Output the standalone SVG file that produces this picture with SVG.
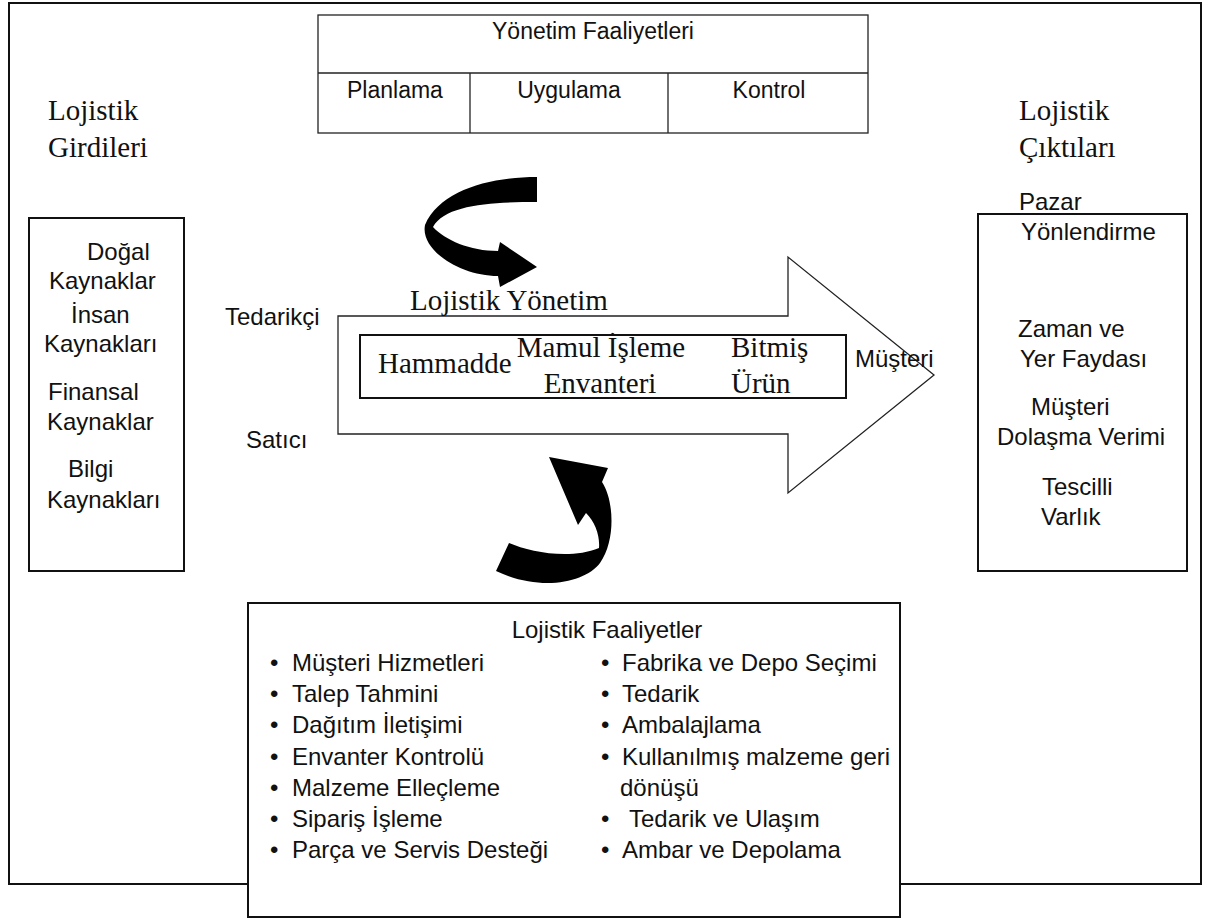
<svg xmlns="http://www.w3.org/2000/svg" width="1224" height="920" viewBox="0 0 1224 920">
<style>
.s{font-family:"Liberation Sans",Arial,sans-serif;font-size:24px;fill:#111}
.t{font-family:"Liberation Serif","Times New Roman",serif;font-size:29px;fill:#111}
.tb{font-family:"Liberation Sans",Arial,sans-serif;font-size:23px;fill:#111}
.box{fill:none;stroke:#111;stroke-width:2}
.thin{fill:none;stroke:#222;stroke-width:1.3}
.blk{fill:#000;stroke:none}
</style>
<rect width="1224" height="920" fill="#fff"/>
<g id="frame">
<path class="box" d="M248,884 L9,884 L9,3 L1201,3 L1201,884 L900,884"/>
</g>
<g id="yonetim">
<rect class="thin" x="318" y="15" width="550" height="118"/>
<line class="thin" x1="318" y1="73" x2="868" y2="73"/>
<line class="thin" x1="470" y1="73" x2="470" y2="133"/>
<line class="thin" x1="668" y1="73" x2="668" y2="133"/>
<text class="tb" x="593" y="39" text-anchor="middle">Yönetim Faaliyetleri</text>
<text class="tb" x="347" y="98">Planlama</text>
<text class="tb" x="569" y="98" text-anchor="middle">Uygulama</text>
<text class="tb" x="769" y="98" text-anchor="middle">Kontrol</text>
</g>
<g id="girdiler-baslik">
<text class="t" x="48" y="120">Lojistik</text>
<text class="t" x="48" y="157">Girdileri</text>
</g>
<g id="ciktilar-baslik">
<text class="t" x="1019" y="120">Lojistik</text>
<text class="t" x="1019" y="157">Çıktıları</text>
</g>
<g id="girdiler">
<rect class="box" x="29" y="218" width="155" height="353"/>
<text class="s" x="87" y="260">Doğal</text>
<text class="s" x="49" y="289">Kaynaklar</text>
<text class="s" x="71" y="323">İnsan</text>
<text class="s" x="44" y="352">Kaynakları</text>
<text class="s" x="48" y="400">Finansal</text>
<text class="s" x="47" y="430">Kaynaklar</text>
<text class="s" x="68" y="477">Bilgi</text>
<text class="s" x="47" y="508">Kaynakları</text>
</g>
<g id="ciktilar">
<rect class="box" x="978" y="214" width="209" height="357"/>
<text class="s" x="1019" y="210">Pazar</text>
<text class="s" x="1021" y="240">Yönlendirme</text>
<text class="s" x="1018" y="337">Zaman ve</text>
<text class="s" x="1020" y="367">Yer Faydası</text>
<text class="s" x="1031" y="415">Müşteri</text>
<text class="s" x="997" y="445">Dolaşma Verimi</text>
<text class="s" x="1042" y="495">Tescilli</text>
<text class="s" x="1041" y="525">Varlık</text>
</g>
<g id="akis">
<path class="thin" d="M338,316 L788,316 L788,257 L934,375 L788,493 L788,434 L338,434 Z"/>
<rect class="box" x="360" y="335" width="486" height="63"/>
<text class="t" x="410" y="310">Lojistik Yönetim</text>
<text class="t" x="378" y="373">Hammadde</text>
<text class="t" x="601" y="357" text-anchor="middle">Mamul İşleme</text>
<text class="t" x="600" y="393" text-anchor="middle">Envanteri</text>
<text class="t" x="731" y="357">Bitmiş</text>
<text class="t" x="731" y="393">Ürün</text>
</g>
<g id="tedarikci"><text class="s" x="225" y="325">Tedarikçi</text></g>
<g id="satici"><text class="s" x="246" y="448">Satıcı</text></g>
<g id="musteri"><text class="s" x="855" y="367">Müşteri</text></g>
<g id="connectors">
<path class="blk" d="M537,177 C490,177 440,190 425,225 C420,250 460,276 498,276 L500,287 L537,267 L500,242 L498,251 C470,251 445,240 433,227 C445,205 490,202 537,202 Z"/>
<path class="blk" d="M509,543 C530,552 570,560 599,548 C600,535 595,522 586,513 L578,525 L549,457 L608,468 L602,482 C614,500 616,540 600,563 C585,583 540,592 496,571 Z"/>
</g>
<g id="faaliyetler">
<rect class="box" x="248" y="603" width="652" height="314"/>
<text class="s" x="607" y="638" text-anchor="middle">Lojistik Faaliyetler</text>
<g class="s">
<text x="270" y="671">•</text><text x="292" y="671">Müşteri Hizmetleri</text>
<text x="270" y="702">•</text><text x="292" y="702">Talep Tahmini</text>
<text x="270" y="733">•</text><text x="292" y="733">Dağıtım İletişimi</text>
<text x="270" y="765">•</text><text x="292" y="765">Envanter Kontrolü</text>
<text x="270" y="796">•</text><text x="292" y="796">Malzeme Elleçleme</text>
<text x="270" y="827">•</text><text x="292" y="827">Sipariş İşleme</text>
<text x="270" y="858">•</text><text x="292" y="858">Parça ve Servis Desteği</text>
<text x="601" y="671">•</text><text x="622" y="671">Fabrika ve Depo Seçimi</text>
<text x="601" y="702">•</text><text x="622" y="702">Tedarik</text>
<text x="601" y="733">•</text><text x="622" y="733">Ambalajlama</text>
<text x="601" y="765">•</text><text x="622" y="765">Kullanılmış malzeme geri</text>
<text x="620" y="796">dönüşü</text>
<text x="601" y="827">•</text><text x="629" y="827">Tedarik ve Ulaşım</text>
<text x="601" y="858">•</text><text x="622" y="858">Ambar ve Depolama</text>
</g>
</g>
</svg>
